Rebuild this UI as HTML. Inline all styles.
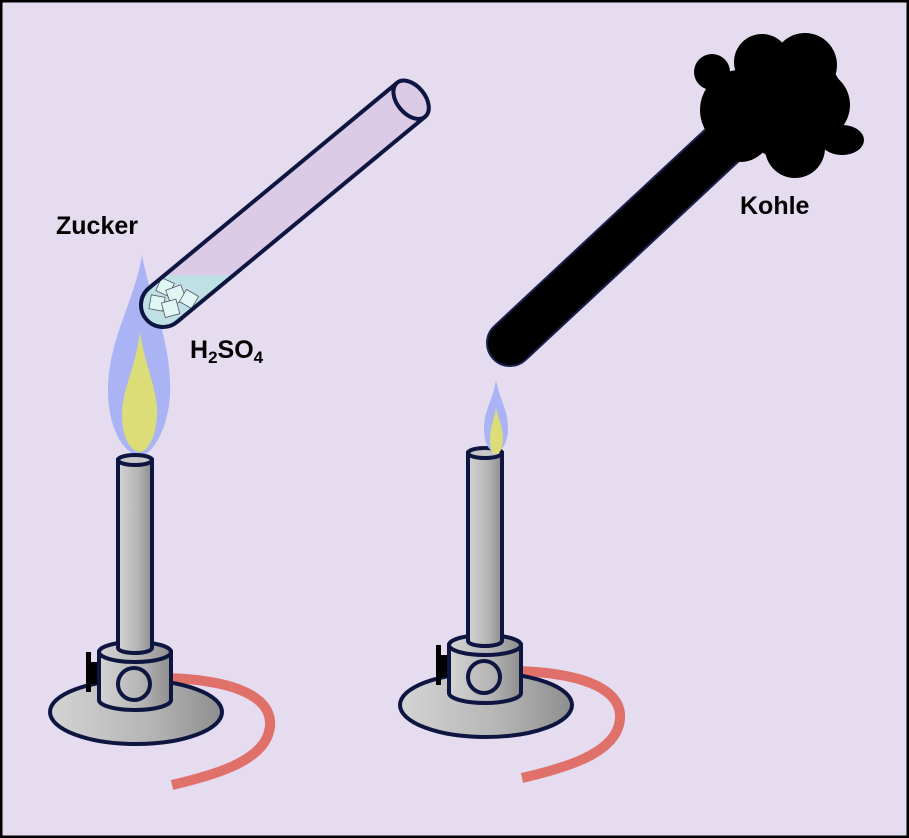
<!DOCTYPE html>
<html><head><meta charset="utf-8"><style>
html,body{margin:0;padding:0;background:#e6dcf0;}
svg{display:block;}
text{font-family:"Liberation Sans",Arial,sans-serif;font-weight:bold;fill:#000;}
</style></head><body>
<svg width="909" height="838" viewBox="0 0 909 838" xmlns="http://www.w3.org/2000/svg">
<defs>
<linearGradient id="g" x1="0" x2="1" y1="0" y2="0">
<stop offset="0" stop-color="#d4d4d4"/><stop offset="0.6" stop-color="#b4b4b4"/><stop offset="1" stop-color="#8e8e8e"/></linearGradient>
<g id="burner">
<path d="M166,678 C240,680 280,700 268,735 C258,762 215,775 172,785" fill="none" stroke="#e0706a" stroke-width="10"/>
<ellipse cx="136" cy="712" rx="86" ry="32" fill="url(#g)" stroke="#0d1540" stroke-width="4"/>
<rect x="86" y="652" width="5" height="40" fill="#000"/>
<rect x="90" y="662" width="10" height="22" fill="#000"/>
<path d="M99,652 L99,700 A36,10 0 0 0 171,700 L171,652 Z" fill="url(#g)" stroke="#0d1540" stroke-width="4"/>
<ellipse cx="135" cy="652" rx="36" ry="10" fill="url(#g)" stroke="#0d1540" stroke-width="4"/>
<circle cx="134" cy="684" r="16" fill="none" stroke="#0d1540" stroke-width="4"/>
<path d="M118,460 L118,648 A17,5 0 0 0 152,648 L152,460 Z" fill="url(#g)" stroke="#0d1540" stroke-width="4"/>
<ellipse cx="135" cy="460" rx="17" ry="5" fill="#c8c8c8" stroke="#0d1540" stroke-width="4"/>
</g>
<clipPath id="tc"><path transform="translate(163,305) rotate(-39.6)" d="M0,-22 L322,-22 L322,22 L0,22 A22,22 0 0 1 0,-22 Z"/></clipPath>
</defs>
<rect x="1" y="1" width="907" height="836" fill="#e6dcf0" stroke="#000" stroke-width="3"/>

<!-- flame 1 -->
<path d="M142,255 C150,300 172,340 170,395 C168,430 152,455 140,456 C125,455 108,430 108,390 C108,340 135,300 142,255 Z" fill="#aab4f4"/>
<path d="M140,332 C146,370 158,390 157,415 C156,440 146,452 140,452 C132,452 122,440 122,415 C122,390 135,370 140,332 Z" fill="#dcdc78"/>
<use href="#burner"/>

<!-- test tube 1 -->
<g clip-path="url(#tc)">
<rect x="100" y="60" width="360" height="300" fill="#dccbe6"/>
<rect x="100" y="275" width="360" height="100" fill="#bfe0e4"/>
</g>
<g fill="#e0f7f4" stroke="#556" stroke-width="0.8">
<rect x="158" y="280" width="14" height="14" transform="rotate(25 165 287)"/>
<rect x="168" y="287" width="16" height="16" transform="rotate(-20 176 295)"/>
<rect x="182" y="292" width="14" height="14" transform="rotate(30 189 299)"/>
<rect x="150" y="296" width="14" height="14" transform="rotate(10 157 303)"/>
<rect x="163" y="301" width="15" height="15" transform="rotate(-15 170 308)"/>
</g>
<g transform="translate(163,305) rotate(-39.6)">
<path d="M322,-22 L0,-22 A22,22 0 0 0 0,22 L322,22" fill="none" stroke="#0d1540" stroke-width="4"/>
<ellipse cx="322" cy="0" rx="14" ry="22" fill="#dccbe6" stroke="#0d1540" stroke-width="4"/>
</g>
<text x="56" y="234" font-size="25">Zucker</text>
<text x="190" y="358" font-size="25">H<tspan font-size="17" dy="5">2</tspan><tspan dy="-5">SO</tspan><tspan font-size="17" dy="5">4</tspan></text>

<!-- burner 2 -->
<g transform="translate(350,-7)"><use href="#burner"/></g>
<path d="M496,380 C500,400 508,410 508,428 C508,445 500,452 496,452 C490,452 484,445 484,428 C484,410 493,400 496,380 Z" fill="#aab4f4"/>
<path d="M496,408 C499,420 503,428 503,438 C503,450 499,454 496,454 C492,454 490,450 490,438 C490,428 494,420 496,408 Z" fill="#dcdc78"/>

<!-- black tube + coal -->
<g transform="translate(510,343) rotate(-43)">
<path d="M0,-23 L290,-23 L290,23 L0,23 A23,23 0 0 1 0,-23 Z" fill="#000" stroke="#1a2050" stroke-width="2"/>
</g>
<g fill="#000">
<circle cx="790" cy="105" r="55"/>
<circle cx="740" cy="110" r="40"/>
<circle cx="805" cy="65" r="32"/>
<circle cx="762" cy="62" r="28"/>
<circle cx="712" cy="72" r="18"/>
<circle cx="815" cy="105" r="35"/>
<ellipse cx="842" cy="140" rx="22" ry="15"/>
<circle cx="795" cy="148" r="30"/>
<circle cx="740" cy="130" r="32"/>
</g>
<text x="740" y="214" font-size="25">Kohle</text>
</svg>
</body></html>
